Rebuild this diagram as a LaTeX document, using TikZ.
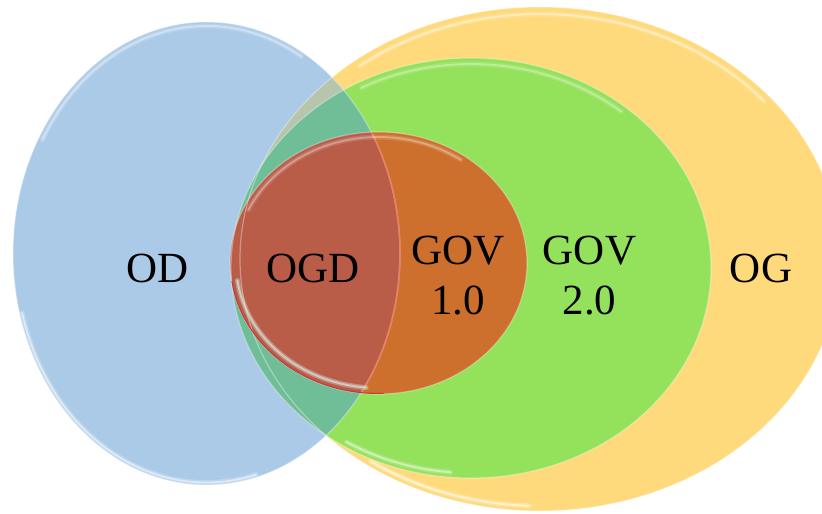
\documentclass[tikz,border=0pt]{standalone}
\usepackage{fontspec}
\setmainfont{Liberation Serif}
\begin{document}
\begin{tikzpicture}[x=1pt,y=1pt,
  lbl/.style={font=\fontsize{43}{50}\selectfont, inner sep=0pt, align=center, text=black},
  gloss/.style={white, line cap=round},
  rim/.style={white, opacity=.35, line width=1.2},
]
% fill colours of the sets and of their overlaps
\definecolor{odblue}{RGB}{170,202,232}
\definecolor{ogyellow}{RGB}{254,218,124}
\definecolor{govtwo}{RGB}{148,225,92}
\definecolor{govone}{RGB}{205,112,46}
\definecolor{odog}{RGB}{182,197,172}
\definecolor{odgovtwo}{RGB}{112,190,152}
\definecolor{ogd}{RGB}{185,92,72}
\definecolor{ogdedge}{RGB}{228,132,100}
\definecolor{redrim}{RGB}{200,55,65}
\definecolor{paleband}{RGB}{214,240,232}

% the four sets
\def\setOD{(206.5,260.5) ellipse [x radius=193.5, y radius=231.5]}
\def\setOG{(540,255) ellipse [x radius=300, y radius=252]}
\def\setGOVtwo{(471,246) ellipse [x radius=240, y radius=210]}
\def\setGOVone{(378.5,251) ellipse [x radius=148.5, y radius=131]}

% a soft highlight band: centre x, centre y, x radius, y radius, from, to, opacity
\newcommand\glossband[7]{%
  \draw[gloss, opacity=#7*0.45, line width=5] (#1,#2) ++(#5:#3 and #4)
    arc[start angle=#5, end angle=#6, x radius=#3, y radius=#4];
  \draw[gloss, opacity=#7, line width=1.8] (#1,#2) ++(#5:#3 and #4)
    arc[start angle=#5, end angle=#6, x radius=#3, y radius=#4];}

\useasboundingbox (0,0) rectangle (822,514);
\clip (0,0) rectangle (822,514);

% plain fills, back to front
\fill[ogyellow] \setOG;
\fill[govtwo] \setGOVtwo;
\fill[govone] \setGOVone;
\fill[odblue] \setOD;

% overlaps with OD
\begin{scope}
  \clip \setOD;
  \fill[odog] \setOG;
  \fill[odgovtwo] \setGOVtwo;
  \fill[ogd] \setGOVone;
\end{scope}

% soft rims along the outlines
\draw[rim] \setOG;
\draw[rim] \setGOVtwo;
\draw[rim] \setGOVone;
\draw[rim] \setOD;
\begin{scope}
  \clip \setGOVone;
  \draw[ogdedge, line width=1.6] \setOD;
\end{scope}

% glossy highlights
\glossband{206.5}{260.5}{189.5}{227.5}{60}{150}{.35}   % OD, top
\glossband{206.5}{260.5}{191}{229}{195}{285}{.5}       % OD, lower left
\glossband{540}{255}{293}{245}{40}{128}{.4}            % OG, top
\glossband{540}{255}{295}{247}{235}{268}{.55}          % OG, lower left
\glossband{471}{246}{234}{204}{50}{118}{.3}            % GOV 2.0, top
\glossband{471}{246}{235}{205}{238}{265}{.45}          % GOV 2.0, lower left
\glossband{378.5}{251}{143.5}{126}{55}{155}{.3}        % GOV 1.0, top
\draw[paleband, opacity=.35, line width=5, line cap=round] (378.5,251) ++(188:142.5 and 125)
  arc[start angle=188, end angle=265, x radius=142.5, y radius=125];
\draw[paleband, opacity=.6, line width=2, line cap=round] (378.5,251) ++(188:142.5 and 125)
  arc[start angle=188, end angle=265, x radius=142.5, y radius=125];
\draw[redrim, line width=1] (378.5,251) ++(188:148 and 130.5)
  arc[start angle=188, end angle=272, x radius=148, y radius=130.5];

% labels (a two-line label sits on the baseline of its last line)
\node[lbl, anchor=base] (od)    at (157.5,231) {OD};
\node[lbl, anchor=base] (ogdl)  at (313,231)   {OGD};
\node[lbl, anchor=base] (gov1)  at (458,199)   {GOV\\1.0};
\node[lbl, anchor=base] (gov2)  at (589.5,199) {GOV\\2.0};
\node[lbl, anchor=base] (og)    at (761,231)   {OG};
\end{tikzpicture}
\end{document}
